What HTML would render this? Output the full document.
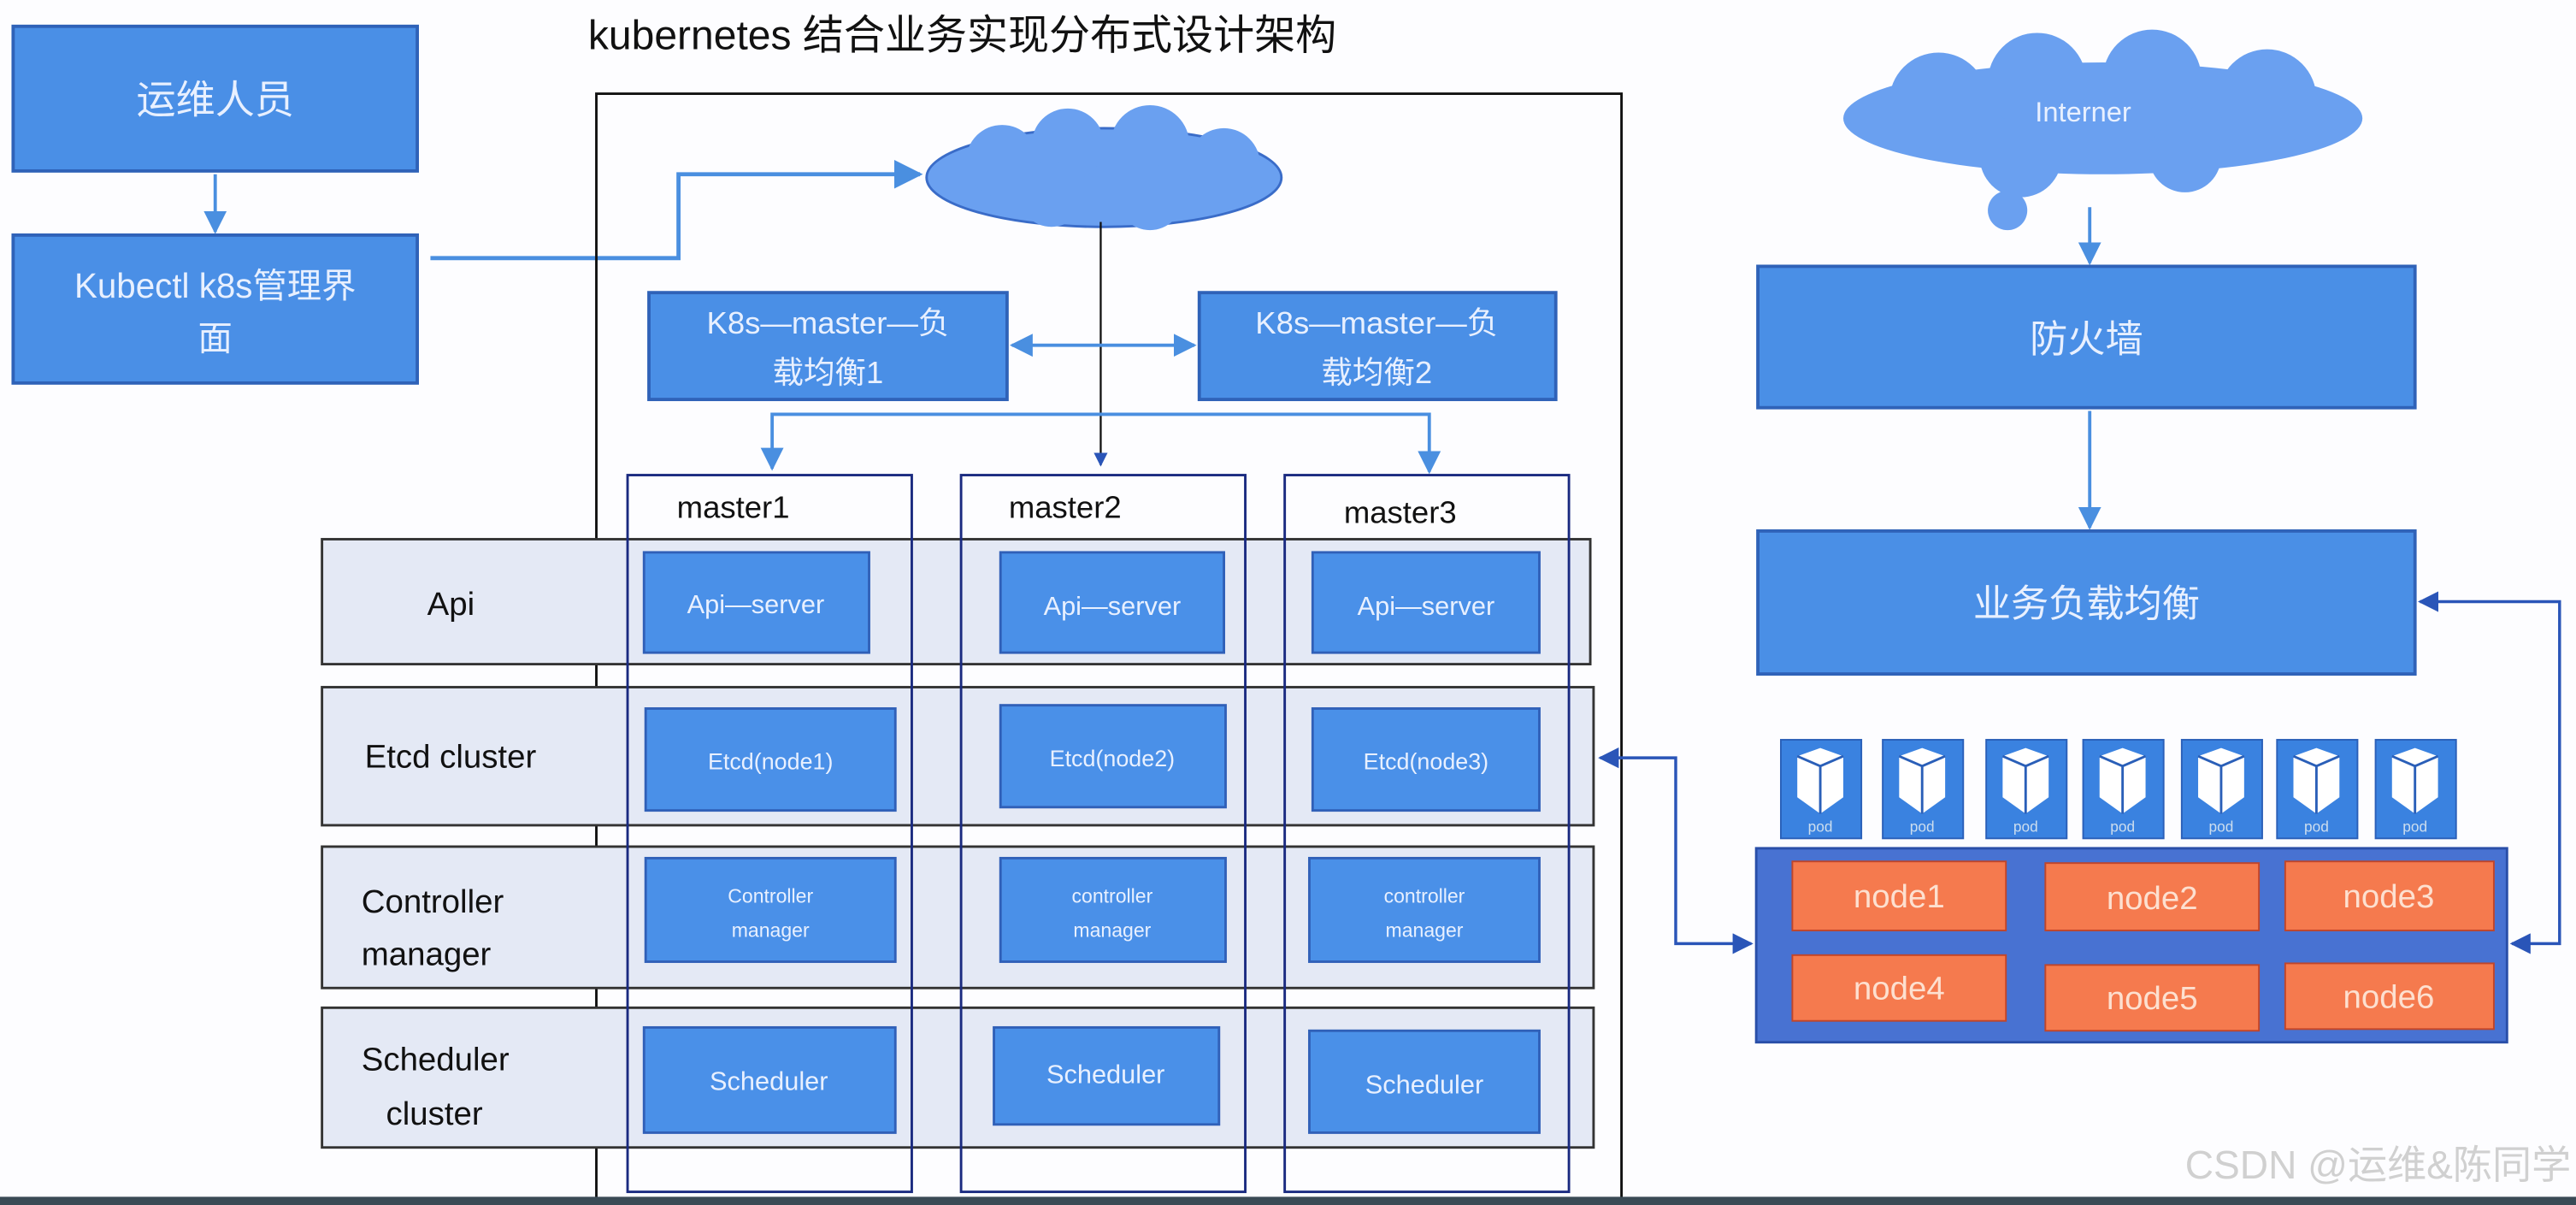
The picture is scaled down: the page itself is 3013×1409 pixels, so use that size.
<!DOCTYPE html>
<html><head><meta charset="utf-8"><style>html,body{margin:0;padding:0;background:#fff}svg{display:block}text{font-family:"Liberation Sans","Noto Sans CJK SC",sans-serif}</style></head>
<body>
<svg width="3013" height="1409" viewBox="0 0 1568 733" preserveAspectRatio="none" xmlns="http://www.w3.org/2000/svg">
<defs>
<marker id="a" viewBox="0 0 10 10" refX="9" refY="5" markerWidth="7" markerHeight="7" orient="auto-start-reverse"><path d="M0,0L10,5L0,10z" fill="#4a8fe0"/></marker>
<marker id="b" viewBox="0 0 10 10" refX="9" refY="5" markerWidth="7" markerHeight="7" orient="auto-start-reverse"><path d="M0,0L10,5L0,10z" fill="#2a55b8"/></marker>
</defs>
<rect width="1568" height="733" fill="#fdfdff"/>
<text x="358" y="30" font-size="25" fill="#111">kubernetes  结合业务实现分布式设计架构</text>
<!-- left -->
<rect x="8" y="16" width="246" height="88" fill="#4a8fe6" stroke="#2f62b8" stroke-width="2"/>
<text x="131" y="69" font-size="24" fill="#e8f0ff" text-anchor="middle">运维人员</text>
<line x1="131" y1="106" x2="131" y2="141" stroke="#4a8fe0" stroke-width="2" marker-end="url(#a)"/>
<rect x="8" y="143" width="246" height="90" fill="#4a8fe6" stroke="#2f62b8" stroke-width="2"/>
<text x="131" y="181" font-size="21" fill="#e8f0ff" text-anchor="middle">Kubectl  k8s管理界</text>
<text x="131" y="213" font-size="21" fill="#e8f0ff" text-anchor="middle">面</text>
<polyline points="262,157 413,157 413,106 560,106" fill="none" stroke="#4a8fe0" stroke-width="2.5" marker-end="url(#a)"/>
<!-- frame -->
<rect x="363" y="57" width="624" height="672" fill="none" stroke="#111" stroke-width="1.5"/>
<!-- cloud -->
<g fill="#6aa0f0" stroke="#3a6cc8" stroke-width="1.5">
<ellipse cx="672" cy="108" rx="108" ry="30"/>
</g>
<g fill="#6aa0f0">
<circle cx="610" cy="98" r="22"/><circle cx="650" cy="88" r="22"/><circle cx="700" cy="88" r="24"/><circle cx="745" cy="100" r="22"/><circle cx="640" cy="118" r="20"/><circle cx="700" cy="120" r="20"/>
</g>
<line x1="670" y1="135" x2="670" y2="283" stroke="#111" stroke-width="1.2" marker-end="url(#b)"/>
<rect x="395" y="178" width="218" height="65" fill="#4a8fe6" stroke="#2f62b8" stroke-width="2"/>
<text x="504" y="203" font-size="19" fill="#e8f0ff" text-anchor="middle">K8s—master—负</text>
<text x="504" y="233" font-size="19" fill="#e8f0ff" text-anchor="middle">载均衡1</text>
<rect x="730" y="178" width="217" height="65" fill="#4a8fe6" stroke="#2f62b8" stroke-width="2"/>
<text x="838" y="203" font-size="19" fill="#e8f0ff" text-anchor="middle">K8s—master—负</text>
<text x="838" y="233" font-size="19" fill="#e8f0ff" text-anchor="middle">载均衡2</text>
<line x1="616" y1="210" x2="727" y2="210" stroke="#4a8fe0" stroke-width="2" marker-start="url(#a)" marker-end="url(#a)"/>
<polyline points="470,285 470,252 870,252 870,287" fill="none" stroke="#4a8fe0" stroke-width="2" marker-start="url(#a)" marker-end="url(#a)"/>
<!-- rows -->
<g fill="#e4e9f5" stroke="#333" stroke-width="1.5">
<rect x="196" y="328" width="772" height="76"/>
<rect x="196" y="418" width="774" height="84"/>
<rect x="196" y="515" width="774" height="86"/>
<rect x="196" y="613" width="774" height="85"/>
</g>
<g font-size="20" fill="#111">
<text x="260" y="374">Api</text>
<text x="222" y="467">Etcd  cluster</text>
<text x="220" y="555">Controller</text>
<text x="220" y="587">manager</text>
<text x="220" y="651">Scheduler</text>
<text x="235" y="684">cluster</text>
</g>
<!-- master columns -->
<g fill="none" stroke="#1a2a80" stroke-width="1.5">
<rect x="382" y="289" width="173" height="436"/>
<rect x="585" y="289" width="173" height="436"/>
<rect x="782" y="289" width="173" height="436"/>
</g>
<g font-size="19" fill="#111">
<text x="412" y="315">master1</text><text x="614" y="315">master2</text><text x="818" y="318">master3</text>
</g>
<g fill="#4a90e8" stroke="#3060b8" stroke-width="1.5">
<rect x="392" y="336" width="137" height="61"/><rect x="609" y="336" width="136" height="61"/><rect x="799" y="336" width="138" height="61"/>
<rect x="393" y="431" width="152" height="62"/><rect x="609" y="429" width="137" height="62"/><rect x="799" y="431" width="138" height="62"/>
<rect x="393" y="522" width="152" height="63"/><rect x="609" y="522" width="137" height="63"/><rect x="797" y="522" width="140" height="63"/>
<rect x="392" y="625" width="153" height="64"/><rect x="605" y="625" width="137" height="59"/><rect x="797" y="627" width="140" height="62"/>
</g>
<g fill="#e8f0ff" text-anchor="middle" font-size="16">
<text x="460" y="373">Api—server</text><text x="677" y="374">Api—server</text><text x="868" y="374">Api—server</text>
<text x="469" y="468" font-size="14">Etcd(node1)</text><text x="677" y="466" font-size="14">Etcd(node2)</text><text x="868" y="468" font-size="14">Etcd(node3)</text>
<text x="469" y="549" font-size="12">Controller</text><text x="469" y="570" font-size="12">manager</text>
<text x="677" y="549" font-size="12">controller</text><text x="677" y="570" font-size="12">manager</text>
<text x="867" y="549" font-size="12">controller</text><text x="867" y="570" font-size="12">manager</text>
<text x="468" y="663">Scheduler</text><text x="673" y="659">Scheduler</text><text x="867" y="665">Scheduler</text>
</g>
<!-- right -->
<g fill="#6aa0f0">
<ellipse cx="1280" cy="72" rx="158" ry="34"/>
<circle cx="1180" cy="62" r="30"/><circle cx="1240" cy="50" r="30"/><circle cx="1310" cy="48" r="30"/><circle cx="1380" cy="60" r="30"/><circle cx="1230" cy="95" r="25"/><circle cx="1330" cy="95" r="22"/><circle cx="1222" cy="128" r="12"/>
</g>
<text x="1268" y="74" font-size="17" fill="#e8f0ff" text-anchor="middle">Interner</text>
<line x1="1272" y1="126" x2="1272" y2="160" stroke="#4a8fe0" stroke-width="2" marker-end="url(#a)"/>
<rect x="1070" y="162" width="400" height="86" fill="#4a8fe6" stroke="#2f62b8" stroke-width="2"/>
<text x="1270" y="214" font-size="23" fill="#e8f0ff" text-anchor="middle">防火墙</text>
<line x1="1272" y1="250" x2="1272" y2="321" stroke="#4a8fe0" stroke-width="2" marker-end="url(#a)"/>
<rect x="1070" y="323" width="400" height="87" fill="#4a8fe6" stroke="#2f62b8" stroke-width="2"/>
<text x="1270" y="375" font-size="23" fill="#e8f0ff" text-anchor="middle">业务负载均衡</text>
<!-- pods -->
<g id="pods">
<g transform="translate(1084,450)"><rect width="49" height="60" fill="#3a82e0" stroke="#2a5fb8"/><path d="M10,10L24,5L38,10L38,35L24,45L10,35z" fill="#fff"/><path d="M10,10L24,16L38,10M24,16L24,45" stroke="#2a5fb8" fill="none" stroke-width="1.5"/><text x="24" y="56" font-size="9" fill="#cde" text-anchor="middle">pod</text></g>
<g transform="translate(1146,450)"><rect width="49" height="60" fill="#3a82e0" stroke="#2a5fb8"/><path d="M10,10L24,5L38,10L38,35L24,45L10,35z" fill="#fff"/><path d="M10,10L24,16L38,10M24,16L24,45" stroke="#2a5fb8" fill="none" stroke-width="1.5"/><text x="24" y="56" font-size="9" fill="#cde" text-anchor="middle">pod</text></g>
<g transform="translate(1209,450)"><rect width="49" height="60" fill="#3a82e0" stroke="#2a5fb8"/><path d="M10,10L24,5L38,10L38,35L24,45L10,35z" fill="#fff"/><path d="M10,10L24,16L38,10M24,16L24,45" stroke="#2a5fb8" fill="none" stroke-width="1.5"/><text x="24" y="56" font-size="9" fill="#cde" text-anchor="middle">pod</text></g>
<g transform="translate(1268,450)"><rect width="49" height="60" fill="#3a82e0" stroke="#2a5fb8"/><path d="M10,10L24,5L38,10L38,35L24,45L10,35z" fill="#fff"/><path d="M10,10L24,16L38,10M24,16L24,45" stroke="#2a5fb8" fill="none" stroke-width="1.5"/><text x="24" y="56" font-size="9" fill="#cde" text-anchor="middle">pod</text></g>
<g transform="translate(1328,450)"><rect width="49" height="60" fill="#3a82e0" stroke="#2a5fb8"/><path d="M10,10L24,5L38,10L38,35L24,45L10,35z" fill="#fff"/><path d="M10,10L24,16L38,10M24,16L24,45" stroke="#2a5fb8" fill="none" stroke-width="1.5"/><text x="24" y="56" font-size="9" fill="#cde" text-anchor="middle">pod</text></g>
<g transform="translate(1386,450)"><rect width="49" height="60" fill="#3a82e0" stroke="#2a5fb8"/><path d="M10,10L24,5L38,10L38,35L24,45L10,35z" fill="#fff"/><path d="M10,10L24,16L38,10M24,16L24,45" stroke="#2a5fb8" fill="none" stroke-width="1.5"/><text x="24" y="56" font-size="9" fill="#cde" text-anchor="middle">pod</text></g>
<g transform="translate(1446,450)"><rect width="49" height="60" fill="#3a82e0" stroke="#2a5fb8"/><path d="M10,10L24,5L38,10L38,35L24,45L10,35z" fill="#fff"/><path d="M10,10L24,16L38,10M24,16L24,45" stroke="#2a5fb8" fill="none" stroke-width="1.5"/><text x="24" y="56" font-size="9" fill="#cde" text-anchor="middle">pod</text></g>
</g>
<rect x="1069" y="516" width="457" height="118" fill="#4872d2" stroke="#2a4fa8" stroke-width="1.5"/>
<g fill="#f57a4e" stroke="#c0452a" stroke-width="1">
<rect x="1091" y="524" width="130" height="42"/><rect x="1245" y="525" width="130" height="41"/><rect x="1391" y="524" width="127" height="42"/>
<rect x="1091" y="581" width="130" height="40"/><rect x="1245" y="587" width="130" height="40"/><rect x="1391" y="586" width="127" height="40"/>
</g>
<g font-size="20" fill="#fde0d0" text-anchor="middle">
<text x="1156" y="552">node1</text><text x="1310" y="553">node2</text><text x="1454" y="552">node3</text>
<text x="1156" y="608">node4</text><text x="1310" y="614">node5</text><text x="1454" y="613">node6</text>
</g>
<polyline points="974,461 1020,461 1020,574 1066,574" fill="none" stroke="#2a55b8" stroke-width="1.8" marker-start="url(#b)" marker-end="url(#b)"/>
<polyline points="1473,366 1558,366 1558,574 1529,574" fill="none" stroke="#2a55b8" stroke-width="1.8" marker-start="url(#b)" marker-end="url(#b)"/>
<text x="1565" y="717" font-size="24" fill="#d0d0d0" text-anchor="end">CSDN @运维&amp;陈同学</text>
<rect x="0" y="728" width="1568" height="5" fill="#3a4a55"/>
</svg>
</body></html>
